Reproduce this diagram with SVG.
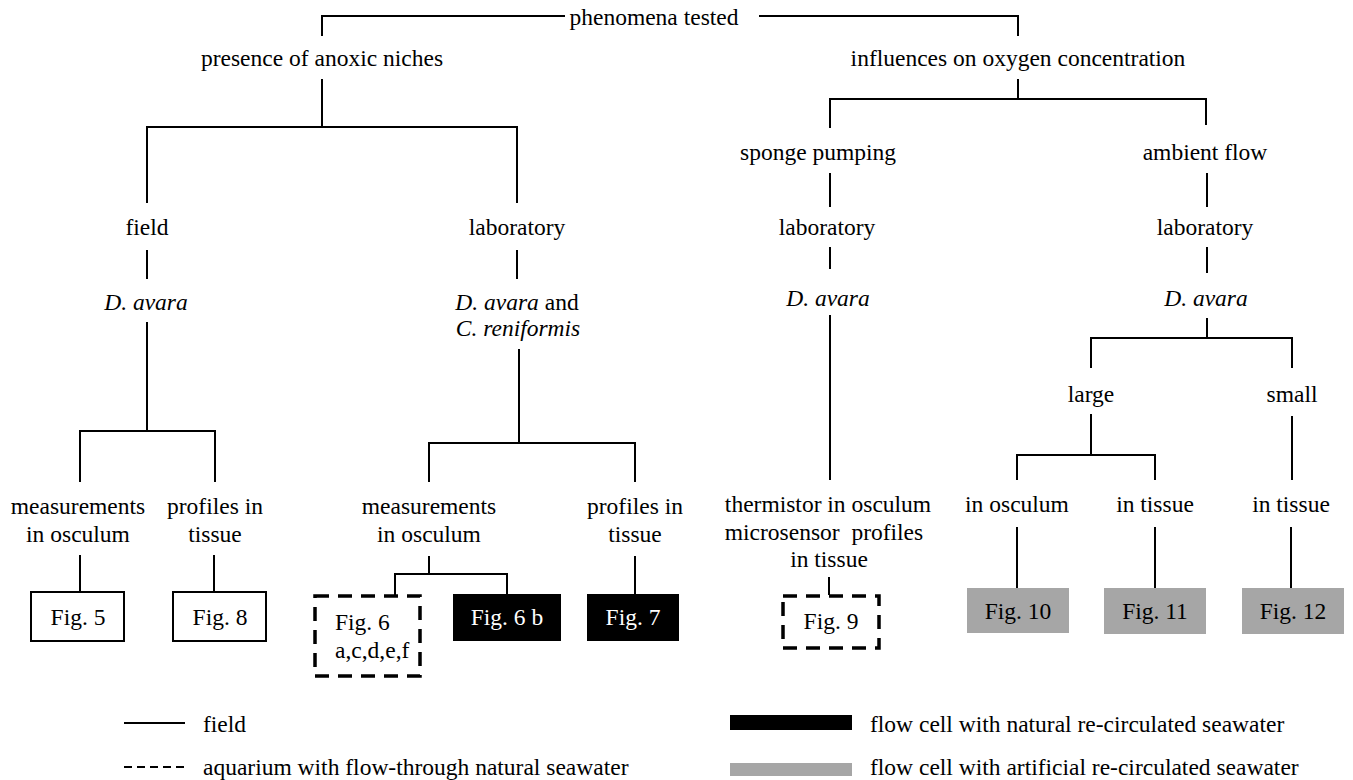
<svg xmlns="http://www.w3.org/2000/svg" width="1353" height="780" viewBox="0 0 1353 780">
<style>
text{font-family:"Liberation Serif","Times New Roman",serif;font-size:23.5px;fill:#000}
.c{text-anchor:middle}
.i{font-style:italic}
.w{fill:#fff}
.ln{stroke:#000;stroke-width:2;fill:none}
.box{fill:#fff;stroke:#000;stroke-width:2}
.dbox{fill:#fff;stroke:#000;stroke-width:3.5;stroke-dasharray:14 9}
.blk{fill:#000}
.gry{fill:#a6a6a6}
</style>
<rect width="1353" height="780" fill="#fff"/>
<g id="connectors" class="ln">
<path d="M565 16H322V36M759 16H1018V36"/>
<path d="M322 79V127M147 203V127H517V203"/>
<path d="M147 250V279M147 322V431M80 482V431H215V482"/>
<path d="M517 250V279M519 349V443M429 482V443H635V482"/>
<path d="M80 555V592M214 555V592M429 556V574M395 596V574H507V594M635 556V594"/>
<path d="M1018 79V99M830 128V99H1206V125"/>
<path d="M830 173V207M830 247V269M830 315V480M829 577V595"/>
<path d="M1207 173V207M1207 247V273M1207 318V338M1091 368V338H1292V368"/>
<path d="M1091 414V455M1017 480V455H1155V480M1292 416V480"/>
<path d="M1017 527V588M1155 527V588M1291 527V588"/>
</g>
<g id="n-root"><text class="c" x="654" y="25">phenomena tested</text></g>
<g id="n-anoxic"><text class="c" x="322" y="66">presence of anoxic niches</text></g>
<g id="n-influences"><text class="c" x="1018" y="66">influences on oxygen concentration</text></g>
<g id="n-field"><text class="c" x="147" y="235">field</text></g>
<g id="n-lab1"><text class="c" x="517" y="235">laboratory</text></g>
<g id="n-davara1"><text class="c i" x="146" y="310">D. avara</text></g>
<g id="n-davara2"><text class="c" x="517" y="310"><tspan class="i">D. avara</tspan> and</text><text class="c i" x="518" y="336">C. reniformis</text></g>
<g id="n-meas1"><text class="c" x="78" y="514">measurements</text><text class="c" x="78" y="542">in osculum</text></g>
<g id="n-prof1"><text class="c" x="215" y="514">profiles in</text><text class="c" x="215" y="542">tissue</text></g>
<g id="n-meas2"><text class="c" x="429" y="514">measurements</text><text class="c" x="429" y="542">in osculum</text></g>
<g id="n-prof2"><text class="c" x="635" y="514">profiles in</text><text class="c" x="635" y="542">tissue</text></g>
<g id="n-fig5"><rect class="box" x="31" y="592" width="93" height="49"/><text class="c" x="78" y="625">Fig. 5</text></g>
<g id="n-fig8"><rect class="box" x="173" y="592" width="93" height="49"/><text class="c" x="220" y="625">Fig. 8</text></g>
<g id="n-fig6"><rect class="dbox" x="315" y="596" width="105" height="80"/><text x="335" y="630">Fig. 6</text><text x="335" y="658">a,c,d,e,f</text></g>
<g id="n-fig6b"><rect class="blk" x="453" y="594" width="108" height="47"/><text class="c w" x="507" y="625">Fig. 6 b</text></g>
<g id="n-fig7"><rect class="blk" x="587" y="594" width="92" height="47"/><text class="c w" x="633" y="625">Fig. 7</text></g>
<g id="n-sponge"><text class="c" x="818" y="160">sponge pumping</text></g>
<g id="n-ambient"><text class="c" x="1205" y="160">ambient flow</text></g>
<g id="n-lab2"><text class="c" x="827" y="235">laboratory</text></g>
<g id="n-lab3"><text class="c" x="1205" y="235">laboratory</text></g>
<g id="n-davara3"><text class="c i" x="828" y="306">D. avara</text></g>
<g id="n-davara4"><text class="c i" x="1206" y="306">D. avara</text></g>
<g id="n-large"><text class="c" x="1091" y="402">large</text></g>
<g id="n-small"><text class="c" x="1292" y="402">small</text></g>
<g id="n-thermistor"><text class="c" x="828" y="512">thermistor in osculum</text><text class="c" x="824" y="540" xml:space="preserve">microsensor  profiles</text><text class="c" x="829" y="567">in tissue</text></g>
<g id="n-osc3"><text class="c" x="1017" y="512">in osculum</text></g>
<g id="n-tis3"><text class="c" x="1155" y="512">in tissue</text></g>
<g id="n-tis4"><text class="c" x="1291" y="512">in tissue</text></g>
<g id="n-fig9"><rect class="dbox" x="783" y="596" width="96" height="52"/><text class="c" x="831" y="629">Fig. 9</text></g>
<g id="n-fig10"><rect class="gry" x="967" y="588" width="102" height="45"/><text class="c" x="1018" y="619">Fig. 10</text></g>
<g id="n-fig11"><rect class="gry" x="1104" y="588" width="102" height="46"/><text class="c" x="1155" y="619">Fig. 11</text></g>
<g id="n-fig12"><rect class="gry" x="1242" y="588" width="102" height="46"/><text class="c" x="1293" y="619">Fig. 12</text></g>
<g id="legend">
<line x1="124" y1="723" x2="185" y2="723" stroke="#000" stroke-width="2"/>
<text x="203" y="732">field</text>
<line x1="124" y1="767" x2="185" y2="767" stroke="#000" stroke-width="2" stroke-dasharray="8 5"/>
<text x="203" y="775">aquarium with flow-through natural seawater</text>
<rect class="blk" x="730" y="715" width="122" height="15"/>
<text x="870" y="732">flow cell with natural re-circulated seawater</text>
<rect class="gry" x="730" y="763" width="122" height="13"/>
<text x="870" y="775">flow cell with artificial re-circulated seawater</text>
</g>
</svg>
